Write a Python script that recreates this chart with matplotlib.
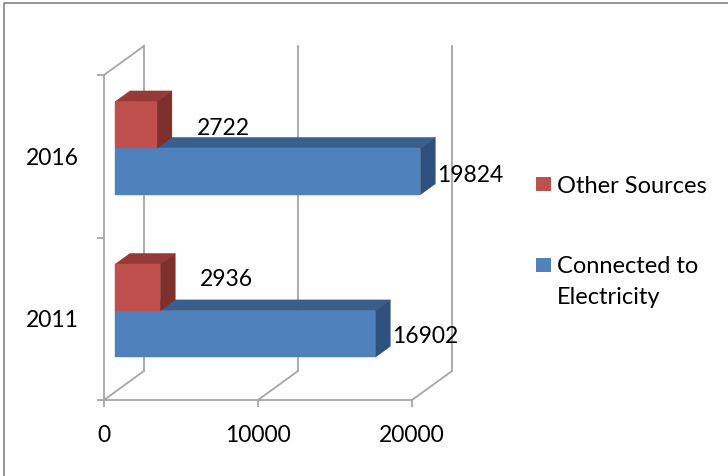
import matplotlib
matplotlib.use('Agg')
import matplotlib.pyplot as plt
from matplotlib.patches import Polygon, Rectangle
from matplotlib.lines import Line2D
from matplotlib.transforms import IdentityTransform

# ---- data ----
years = ['2011', '2016']
connected = [16902, 19824]
other = [2936, 2722]
series_names = ['Other Sources', 'Connected to\nElectricity']
x_ticks = [0, 10000, 20000]
x_tick_labels = ['0', '10000', '20000']

# ---- style ----
plt.rcParams['font.family'] = ['Lato', 'DejaVu Sans']
FS = 16.5
FS_LEG = 17
GRID = '#A6A6A6'
BLUE = ('#4F81BD', '#3B5F8C', '#30507D')   # front, top, side
RED = ('#C0504D', '#963A37', '#7E302D')
W, H = 728, 476
DX, DY = 40, 29          # depth vector of the 3D box in pixels
D0, D1 = 0.275, 0.65     # bar depth range (fraction of box depth)
BAR_H = 0.286            # bar thickness in category units

fig = plt.figure(figsize=(W / 100, H / 100), dpi=100)
ax = fig.add_axes([104 / W, 1 - 400 / H, 308 / W, 325 / H])
ax.set_xlim(0, 20000)
ax.set_ylim(-0.5, 1.5)
ax.patch.set_visible(False)
for s in ['top', 'right']:
    ax.spines[s].set_visible(False)
for s in ['left', 'bottom']:
    ax.spines[s].set_color(GRID)
    ax.spines[s].set_linewidth(1.3)

ypos = list(range(len(years)))
ax.set_xticks(x_ticks)
ax.set_xticklabels(x_tick_labels, fontsize=FS)
ax.tick_params(axis='x', direction='out', length=4.8, width=1.3, color=GRID, pad=13)
ax.set_yticks(ypos)
ax.set_yticklabels(years, fontsize=FS)
ax.tick_params(axis='y', which='major', length=0, pad=18)
ax.set_yticks([-0.5, 0.5, 1.5], minor=True)
ax.tick_params(axis='y', which='minor', direction='out', length=5, width=1.3, color=GRID)

ID = IdentityTransform()


def P(x, y, d):
    px, py = ax.transData.transform((x, y))
    return (px + d * DX, py + d * DY)


def line(p, q, **kw):
    fig.add_artist(Line2D([p[0], q[0]], [p[1], q[1]], transform=ID,
                          color=GRID, lw=1.3, zorder=1, **kw))


# back-wall gridlines and floor / wall diagonals
y0, y1 = ax.get_ylim()
for xv in x_ticks:
    line(P(xv, y0, 1), P(xv, y1, 1))
    line(P(xv, y0, 0), P(xv, y0, 1))
line(P(0, y1, 0), P(0, y1, 1))


def bar3d(v, ya, yb, cols):
    front = [P(0, ya, D0), P(v, ya, D0), P(v, yb, D0), P(0, yb, D0)]
    top = [P(0, yb, D0), P(v, yb, D0), P(v, yb, D1), P(0, yb, D1)]
    side = [P(v, ya, D0), P(v, yb, D0), P(v, yb, D1), P(v, ya, D1)]
    for poly, c in ((top, cols[1]), (side, cols[2]), (front, cols[0])):
        fig.add_artist(Polygon(poly, closed=True, transform=ID, facecolor=c,
                               edgecolor=c, lw=0.3, zorder=3))


# label nudges (layout, in pixels)
blue_dx, red_dx = 16.5, 40
blue_dy = [-9, -10]
red_dy = [2, -10]

for i, c in enumerate(ypos):
    bar3d(connected[i], c - BAR_H, c, BLUE)
    bar3d(other[i], c, c + BAR_H, RED)
    px, py = P(connected[i], c - BAR_H / 2, D0)
    fig.text(px + blue_dx, py + blue_dy[i], str(connected[i]), transform=ID,
             fontsize=FS, ha='left', va='baseline', zorder=5)
    px, py = P(other[i], c + BAR_H / 2, D0)
    fig.text(px + red_dx, py + red_dy[i], str(other[i]), transform=ID,
             fontsize=FS, ha='left', va='baseline', zorder=5)

# legend
leg_items = [(series_names[0], RED[0], 285.3, 283.3),
             (series_names[1], BLUE[0], 204.3, 203.3)]
for name, col, sq_y, base in leg_items:
    fig.add_artist(Rectangle((536, sq_y), 14.5, 14, transform=ID,
                             facecolor=col, edgecolor='none'))
    for k, ln in enumerate(name.split('\n')):
        fig.text(557, base - 31.3 * k, ln, transform=ID, fontsize=FS_LEG,
                 ha='left', va='baseline')

# chart frame (top and left edges visible)
fig.add_artist(Line2D([4, 4, W], [0, H - 3.3, H - 3.3], transform=ID,
                      color='#8C8C8C', lw=1.3))

fig.savefig('out.png', dpi=100)
